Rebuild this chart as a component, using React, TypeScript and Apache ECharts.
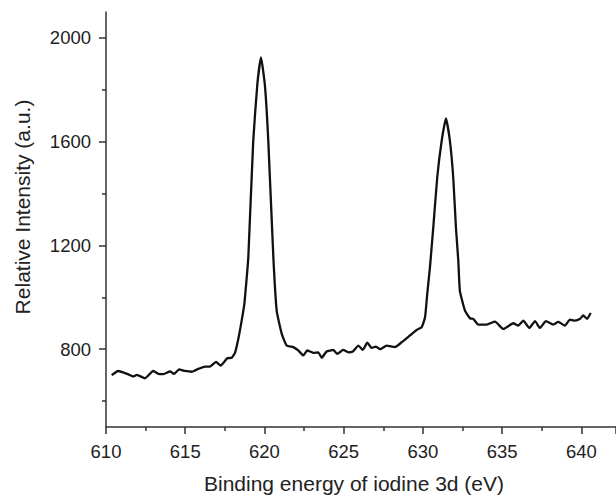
import React, { useEffect, useRef } from "react";
import * as echarts from "echarts";

const energy = [
  610.36, 610.78, 611.41, 611.72, 611.94, 612.46, 612.98, 613.3, 613.62, 614.04,
  614.29, 614.61, 614.98, 615.41, 615.82, 616.25, 616.56, 616.94, 617.24, 617.65,
  617.93, 618.14, 618.35, 618.56, 618.73, 618.88, 618.98, 619.29, 619.55, 619.78,
  620.03, 620.24, 620.56, 620.77, 621.09, 621.4, 621.82, 622.13, 622.45, 622.7,
  623.08, 623.39, 623.61, 623.92, 624.34, 624.59, 624.97, 625.29, 625.6, 625.92,
  626.2, 626.49, 626.76, 627.03, 627.29, 627.71, 628.23, 628.66, 629.18, 629.6,
  629.92, 630.13, 630.27, 630.44, 630.65, 630.9, 631.18, 631.45, 631.7, 631.91,
  632.08, 632.23, 632.33, 632.65, 632.97, 633.17, 633.49, 634.02, 634.54, 635.07,
  635.7, 636.01, 636.33, 636.71, 637.07, 637.38, 637.76, 638.22, 638.54, 638.96,
  639.27, 639.59, 639.91, 640.11, 640.36, 640.58,
];

const intensity = [
  700, 716, 703, 695, 701, 688, 716, 705, 704, 714,
  705, 722, 716, 713, 724, 733, 733, 751, 737, 765,
  767, 786, 840, 910, 975, 1077, 1154, 1603, 1822, 1925,
  1815, 1603, 1154, 949, 859, 814, 808, 795, 776, 795,
  786, 788, 767, 791, 797, 782, 797, 788, 792, 814,
  797, 825, 805, 810, 800, 814, 808, 827, 853, 874,
  885, 923, 1013, 1115, 1269, 1462, 1603, 1690, 1603, 1462,
  1269, 1141, 1025, 949, 919, 917, 895, 895, 906, 878,
  900, 891, 910, 882, 908, 882, 908, 895, 905, 891,
  914, 910, 917, 930, 917, 940,
];

const yMajorTicks = [800, 1200, 1600, 2000];
const yMinorTicks = [600, 1000, 1400, 1800];

const xTitle = "Binding energy of iodine 3d (eV)";
const yTitle = "Relative Intensity (a.u.)";

const FONT = "'Liberation Sans', Arial, Helvetica, sans-serif";
const AXIS_COLOR = "#333";
const TEXT_COLOR = "#222";

export default function App() {
  const ref = useRef<HTMLDivElement>(null);

  useEffect(() => {
    if (!ref.current) return;
    const chart = echarts.init(ref.current, undefined, { renderer: "svg" });
    const data = energy.map((e, i) => [e, intensity[i]]);
    const baseY = {
      type: "value",
      min: 500,
      max: 2100,
      position: "left",
      splitLine: { show: false },
      axisLine: { show: true, lineStyle: { color: AXIS_COLOR, width: 1.5 } },
    };
    chart.setOption({
      animation: false,
      backgroundColor: "#fff",
      grid: { left: 106, right: 0, top: 12, bottom: 69, containLabel: false },
      xAxis: {
        type: "value",
        min: 610,
        max: 642.18,
        interval: 5,
        splitLine: { show: false },
        axisLine: { show: true, lineStyle: { color: AXIS_COLOR, width: 1.5 } },
        axisTick: { show: true, inside: false, length: 7, lineStyle: { color: AXIS_COLOR, width: 1.5 } },
        minorTick: { show: true, splitNumber: 2, length: 4, lineStyle: { color: AXIS_COLOR, width: 1.5 } },
        minorSplitLine: { show: false },
        axisLabel: {
          margin: 15,
          color: TEXT_COLOR,
          fontSize: 18.5,
          fontFamily: FONT,
          showMaxLabel: false,
          formatter: (v: number) => String(v),
        },
      },
      yAxis: [
        {
          ...baseY,
          axisTick: {
            show: true,
            length: 7,
            customValues: yMajorTicks,
            lineStyle: { color: AXIS_COLOR, width: 1.5 },
          },
          axisLabel: {
            margin: 15,
            color: TEXT_COLOR,
            fontSize: 18.5,
            fontFamily: FONT,
            customValues: yMajorTicks,
            formatter: (v: number) => String(v),
          },
        },
        {
          ...baseY,
          axisLine: { show: false },
          axisTick: {
            show: true,
            length: 4,
            customValues: yMinorTicks,
            lineStyle: { color: AXIS_COLOR, width: 1.5 },
          },
          axisLabel: { show: false },
        },
      ],
      graphic: [
        {
          type: "text",
          x: 354,
          y: 483,
          style: {
            text: xTitle,
            font: `21px ${FONT}`,
            fill: TEXT_COLOR,
            align: "center",
            verticalAlign: "middle",
          },
        },
        {
          type: "text",
          x: 22,
          y: 207,
          rotation: Math.PI / 2,
          style: {
            text: yTitle,
            font: `21px ${FONT}`,
            fill: TEXT_COLOR,
            align: "center",
            verticalAlign: "middle",
          },
        },
      ],
      series: [
        {
          type: "line",
          data,
          showSymbol: false,
          symbol: "none",
          smooth: 0.15,
          lineStyle: { color: "#111", width: 2.3, join: "round" },
          yAxisIndex: 0,
        },
      ],
    });
    return () => chart.dispose();
  }, []);

  return (
    <div
      ref={ref}
      style={{ position: "fixed", left: 0, top: 0, width: 616, height: 496 }}
    />
  );
}
